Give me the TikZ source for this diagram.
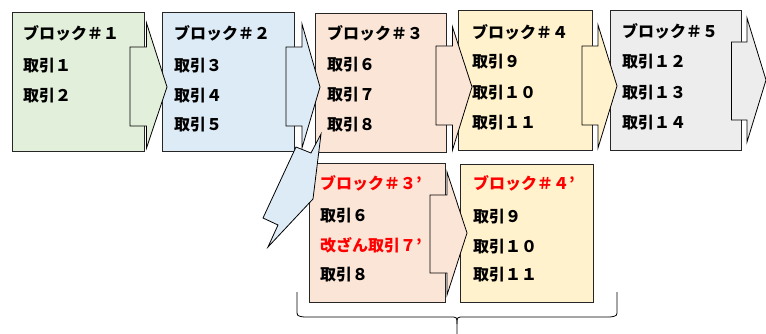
\documentclass[tikz,border=0pt]{standalone}
\usepackage{fontspec}
\newfontfamily\jp{Noto Sans CJK JP}
\definecolor{cg}{HTML}{E2EFDA}
\definecolor{cb}{HTML}{DDEBF7}
\definecolor{co}{HTML}{FBE5D6}
\definecolor{cy}{HTML}{FFF2CC}
\definecolor{cgr}{HTML}{EDEDED}
\definecolor{rd}{HTML}{FF0000}
\tikzset{
  blk/.style={draw=black!85, line width=0.8pt},
  arr/.style={draw=black, line width=0.8pt, line join=miter},
  txt/.style={anchor=west, inner sep=0pt, font=\jp\bfseries\fontsize{16}{19}\selectfont, text=black},
  rtxt/.style={txt, text=rd},
  brc/.style={draw=black, line width=0.8pt}
}
\begin{document}
\begin{tikzpicture}[x=1pt,y=-1pt]
\useasboundingbox (0,0) rectangle (766,334);
% boxes
\filldraw[blk, fill=cg]  (12,12)  rectangle (144,151);
\filldraw[blk, fill=cb]  (162,12) rectangle (294,151);
\filldraw[blk, fill=co]  (315,13) rectangle (446,152);
\filldraw[blk, fill=cy]  (458,10) rectangle (592,150);
\filldraw[blk, fill=cgr] (610,10) rectangle (741,150);
\filldraw[blk, fill=co]  (309,163) rectangle (445,302);
\filldraw[blk, fill=cy]  (460,164) rectangle (593,302);
% top arrows
\filldraw[arr, fill=cg] (130,47) -- (146.5,47) -- (146.5,23) -- (167,87) -- (146.5,148) -- (146.5,126) -- (130,126) -- cycle;
\filldraw[arr, fill=cb] (286,47) -- (302,47) -- (302,24) -- (320,87) -- (302,148) -- (302,126) -- (286,126) -- cycle;
\filldraw[arr, fill=co] (436,46) -- (452.5,46) -- (452.5,27) -- (472,87) -- (452.5,150) -- (452.5,125) -- (436,125) -- cycle;
\filldraw[arr, fill=cy] (582,46) -- (598,46) -- (598,25) -- (617,86) -- (598,148) -- (598,125) -- (582,125) -- cycle;
\filldraw[arr, fill=cgr] (731.5,42) -- (747,42) -- (747,18) -- (766,80) -- (747,142) -- (747,120) -- (731.5,120) -- cycle;
% bottom arrow
\filldraw[arr, fill=co] (430,195) -- (447,195) -- (447,172) -- (467,233) -- (447,295) -- (447,273) -- (430,273) -- cycle;
% blue bent arrow
\filldraw[arr, fill=cb] (321,134) -- (311,153) -- (296,147) -- (263,218) -- (278,225) -- (268,247) -- (313,199) -- cycle;
% texts
\node[txt] (a1) at (23,33) {ブロック＃１};
\node[txt] (a2) at (23,66) {取引１};
\node[txt] (a3) at (23,96) {取引２};
\node[txt] (b1) at (174,33) {ブロック＃２};
\node[txt] (b2) at (174,66) {取引３};
\node[txt] (b3) at (174,96) {取引４};
\node[txt] (b4) at (174,125) {取引５};
\node[txt] (c1) at (327,33) {ブロック＃３};
\node[txt] (c2) at (327,65) {取引６};
\node[txt] (c3) at (327,95) {取引７};
\node[txt] (c4) at (327,125) {取引８};
\node[txt] (d1) at (472,32) {ブロック＃４};
\node[txt] (d2) at (472,62) {取引９};
\node[txt] (d3) at (472,93) {取引１０};
\node[txt] (d4) at (472,123) {取引１１};
\node[txt] (e1) at (622,31) {ブロック＃５};
\node[txt] (e2) at (622,62) {取引１２};
\node[txt] (e3) at (622,93) {取引１３};
\node[txt] (e4) at (622,123) {取引１４};
\node[rtxt] (f1) at (320,183) {ブロック＃３’};
\node[txt]  (f2) at (320,216) {取引６};
\node[rtxt] (f3) at (320,245) {改ざん取引７’};
\node[txt]  (f4) at (320,275) {取引８};
\node[rtxt] (g1) at (473,183) {ブロック＃４’};
\node[txt]  (g2) at (473,217) {取引９};
\node[txt]  (g3) at (473,247) {取引１０};
\node[txt]  (g4) at (473,275) {取引１１};
% brace
\coordinate (bl) at (297,292);
\coordinate (br) at (617,292);
\coordinate (bm) at (457,334);
\draw[brc] (bl) -- (297,310) .. controls (297,316) .. (304,317) -- (450,317) .. controls (457,317) .. (457,324) -- (bm);
\draw[brc] (br) -- (617,310) .. controls (617,316) .. (610,317) -- (464,317) .. controls (457,317) .. (457,324);
\end{tikzpicture}
\end{document}
